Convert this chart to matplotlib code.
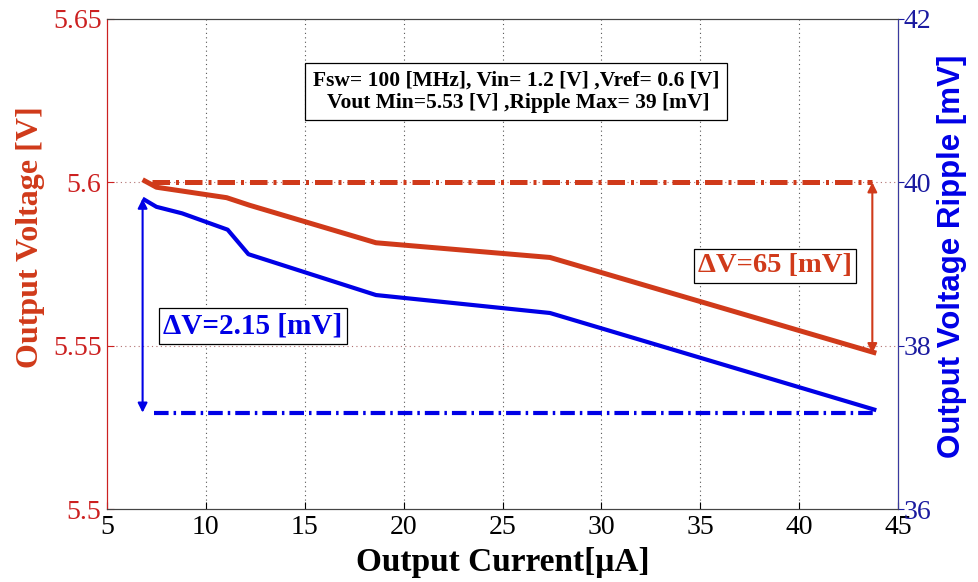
import matplotlib
matplotlib.use("Agg")
import matplotlib.pyplot as plt

# Output voltage (left axis) vs load current
current_v = [6.8, 7.5, 11.05, 12.2, 18.6, 27.4, 43.9]
voltage = [5.6008, 5.5985, 5.5953, 5.593, 5.5815, 5.577, 5.5477]

# Output ripple (right axis) vs load current
current_r = [6.8, 7.5, 8.8, 11.1, 12.15, 18.6, 27.4, 43.9]
ripple = [39.80, 39.70, 39.62, 39.42, 39.12, 38.62, 38.40, 37.21]

# Reference levels
v_ref_level = 5.6
v_ref_span = [7.3, 43.7]
r_ref_level = 37.18
r_ref_span = [7.4, 43.8]

x_ticks = [5, 10, 15, 20, 25, 30, 35, 40, 45]
v_ticks = [5.5, 5.55, 5.6, 5.65]
v_tick_labels = ["5.5", "5.55", "5.6", "5.65"]
r_ticks = [36, 38, 40, 42]

RED = "#d03a1a"
BLUE = "#0000e6"
SERIF = "Liberation Serif"
SANS = "Liberation Sans"

fig = plt.figure(figsize=(9.79, 5.82), dpi=100)
ax = fig.add_axes([0.1093, 0.1254, 0.808, 0.842])
ax2 = ax.twinx()

ax.set_xlim(5, 45)
ax.set_ylim(5.5, 5.65)
ax2.set_ylim(36, 42)

# grid
for xt in x_ticks[1:-1]:
    ax.axvline(xt, color="#555555", ls=(0, (1, 3)), lw=0.8, zorder=0)
for yt in v_ticks[1:-1]:
    ax.axhline(yt, color="#b07070", ls=(0, (1, 3)), lw=0.8, zorder=0)

# curves
ax.plot(current_v, voltage, color=RED, lw=3.6, solid_capstyle="butt", zorder=3)
ax.plot(v_ref_span, [v_ref_level] * 2, color=RED, lw=3.6,
        ls=(0, (3.5, 1.2, 0.6, 1.2)), zorder=3)
ax2.plot(current_r, ripple, color=BLUE, lw=3.0, solid_capstyle="butt", zorder=3)
ax2.plot(r_ref_span, [r_ref_level] * 2, color=BLUE, lw=3.0,
         ls=(0, (3.5, 1.2, 0.6, 1.2)), zorder=3)

# delta arrows
ax.annotate("", xy=(43.7, v_ref_level), xytext=(43.7, voltage[-1]),
            arrowprops=dict(arrowstyle="<|-|>", color=RED, lw=1.5,
                            mutation_scale=14, shrinkA=0, shrinkB=0))
ax2.annotate("", xy=(6.8, ripple[0]), xytext=(6.8, r_ref_level),
             arrowprops=dict(arrowstyle="<|-|>", color=BLUE, lw=1.5,
                             mutation_scale=14, shrinkA=0, shrinkB=0))

# annotations
ax.text(25.68, 5.6277, "Fsw= 100 [MHz], Vin= 1.2 [V] ,Vref= 0.6 [V]\n Vout Min=5.53 [V] ,Ripple Max= 39 [mV]",
        ha="center", va="center", fontsize=15.5, fontweight="bold", family=SERIF,
        linespacing=1.15,
        bbox=dict(boxstyle="square,pad=0.35", fc="white", ec="black", lw=0.9))
ax.text(38.78, 5.5744, "ΔV=65 [mV]", ha="center", va="center", fontsize=20.5,
        fontweight="bold", family=SERIF, color=RED,
        bbox=dict(boxstyle="square,pad=0.15", fc="white", ec="black", lw=0.9))
ax.text(12.36, 5.556, "ΔV=2.15 [mV]", ha="center", va="center", fontsize=21,
        fontweight="bold", family=SERIF, color=BLUE,
        bbox=dict(boxstyle="square,pad=0.15", fc="white", ec="black", lw=0.9))

# axes styling
ax.set_xticks(x_ticks)
ax.set_xticklabels([str(t) for t in x_ticks], family=SERIF, fontsize=20)
ax.set_yticks(v_ticks)
ax.set_yticklabels(v_tick_labels, family=SERIF, fontsize=20, color="#cc2020")
ax2.set_yticks(r_ticks)
ax2.set_yticklabels([str(t) for t in r_ticks], family=SERIF, fontsize=20,
                    color="#1a1aa0")
ax.tick_params(axis="x", direction="in", length=5, pad=4)
ax.tick_params(axis="y", direction="in", length=5, color="#cc2020", pad=4)
ax2.tick_params(axis="y", direction="out", length=4, color="#1a1aa0", pad=0)

ax.spines["left"].set_color("#cc2020")
ax2.spines["left"].set_color("#cc2020")
ax2.spines["right"].set_color("#3a3aa0")
for sp in ["top", "bottom"]:
    ax.spines[sp].set_color("#444444")
    ax2.spines[sp].set_color("#444444")

ax.set_xlabel("Output Current[μA]", family=SERIF, fontsize=24,
              fontweight="bold")
ax.xaxis.set_label_coords(0.5, -0.077)
ax.set_ylabel("Output Voltage [V]", family=SERIF, fontsize=23,
              fontweight="bold", color=RED)
ax.yaxis.set_label_coords(-0.079, 0.555)
ax2.set_ylabel("Output Voltage Ripple [mV]", family=SANS, fontsize=22.5,
               fontweight="bold", color=BLUE)
ax2.yaxis.set_label_coords(1.049, 0.515)

fig.savefig("out.png", dpi=100)
